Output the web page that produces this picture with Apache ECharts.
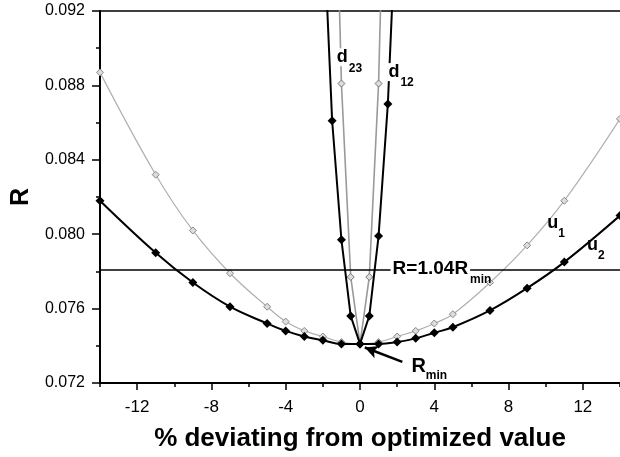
<!DOCTYPE html>
<html>
<head>
<meta charset="utf-8">
<script src="https://cdn.jsdelivr.net/npm/echarts@6/dist/echarts.min.js"></script>
<style>
  html, body { margin: 0; padding: 0; background: #fff; }
  #chart { width: 620px; height: 457px; }
</style>
</head>
<body>
<div id="chart"></div>
<script>
// deviation (%) for the u curves
var uX = [-14, -11, -9, -7, -5, -4, -3, -2, -1, 0, 1, 2, 3, 4, 5, 7, 9, 11, 14];
var u1 = [0.0887, 0.0832, 0.0802, 0.0779, 0.0761, 0.0753, 0.0748, 0.0745, 0.0742, 0.0741,
          0.0742, 0.0745, 0.0748, 0.0752, 0.0757, 0.0774, 0.0794, 0.0818, 0.0862];
var u2 = [0.0818, 0.0790, 0.0774, 0.0761, 0.0752, 0.0748, 0.0745, 0.0743, 0.0741, 0.0741,
          0.0741, 0.0742, 0.0744, 0.0747, 0.0750, 0.0759, 0.0771, 0.0785, 0.0810];

// the d curves only go a couple of percent either way
var d12X = [-2, -1.5, -1, -0.5, 0, 0.5, 1, 1.5, 2];
var d12 = [0.0975, 0.0861, 0.0797, 0.0756, 0.0741, 0.0756, 0.0799, 0.0870, 0.0985];
var d23X = [-1.5, -1, -0.5, 0, 0.5, 1, 1.5];
var d23 = [0.1075, 0.0881, 0.0777, 0.0741, 0.0777, 0.0881, 0.1075];

var rLine = 0.0781;   // R=1.04Rmin

var xMajor = [-12, -8, -4, 0, 4, 8, 12];

function pairs(xs, ys) {
    return xs.map(function (x, i) { return [x, ys[i]]; });
}

var FONT = 'Liberation Sans, Arial, sans-serif';

var rich = {
    b: { fontSize: 18, fontWeight: 'bold', fontFamily: FONT, color: '#000', lineHeight: 20, verticalAlign: 'top' },
    s: { fontSize: 12, fontWeight: 'bold', fontFamily: FONT, color: '#000', lineHeight: 26, verticalAlign: 'bottom' },
    // white backed: the curve is broken behind the letter
    db: { fontSize: 18, fontWeight: 'bold', fontFamily: FONT, color: '#000', lineHeight: 20, verticalAlign: 'top',
          backgroundColor: '#fff', padding: [0, 1, 0, 1] },
    bw: { fontSize: 19, fontWeight: 'bold', fontFamily: FONT, color: '#000', lineHeight: 20, verticalAlign: 'top',
          backgroundColor: '#fff', padding: [0, 2, 0, 2] },
    bb: { fontSize: 20, fontWeight: 'bold', fontFamily: FONT, color: '#000', lineHeight: 22, verticalAlign: 'top' }
};

function note(x, y, text) {
    return {
        coord: [x, y],
        symbol: 'circle',
        symbolSize: 1,
        itemStyle: { color: 'rgba(0,0,0,0)' },
        label: {
            show: true,
            position: 'right',
            distance: 0,
            formatter: text,
            rich: rich
        }
    };
}

var myChart = echarts.init(document.getElementById('chart'));

var option = {
    animation: false,
    backgroundColor: '#fff',
    grid: { left: 100, right: -7, top: 11, bottom: 73 },
    xAxis: [
        {
            type: 'value',
            min: -14,
            max: 14,
            position: 'bottom',
            splitLine: { show: false },
            axisLine: { onZero: false, lineStyle: { color: '#000', width: 2 } },
            axisTick: { customValues: xMajor, length: 7, lineStyle: { color: '#000', width: 1.5 } },
            axisLabel: { customValues: xMajor, fontSize: 17, color: '#000', fontFamily: FONT, margin: 16 },
            name: '% deviating from optimized value',
            nameLocation: 'middle',
            nameGap: 43,
            nameTextStyle: { fontSize: 26, fontWeight: 'bold', color: '#000', fontFamily: FONT }
        },
        {
            type: 'value',
            min: -14,
            max: 14,
            position: 'top',
            splitLine: { show: false },
            axisLine: { onZero: false, lineStyle: { color: '#000', width: 1.5 } },
            axisTick: { show: false },
            axisLabel: { show: false }
        },
        {
            type: 'value',
            min: -14,
            max: 14,
            interval: 2,
            position: 'bottom',
            splitLine: { show: false },
            axisLine: { show: true, onZero: false, lineStyle: { color: '#000', opacity: 0 } },
            axisTick: { show: true, length: 4, lineStyle: { color: '#000', width: 1.5 } },
            axisLabel: { show: false }
        }
    ],
    yAxis: {
        type: 'value',
        min: 0.072,
        max: 0.092,
        interval: 0.004,
        splitLine: { show: false },
        axisLine: { show: true, onZero: false, lineStyle: { color: '#000', width: 2 } },
        axisTick: { show: true, length: 8, lineStyle: { color: '#000', width: 1.5 } },
        minorTick: { show: true, splitNumber: 2, length: 4, lineStyle: { color: '#000', width: 1.5 } },
        axisLabel: {
            fontSize: 16, color: '#000', fontFamily: FONT, margin: 15,
            formatter: function (v) { return v.toFixed(3); }
        },
        name: 'R',
        nameLocation: 'middle',
        nameGap: 64,
        nameTextStyle: { fontSize: 25, fontWeight: 'bold', color: '#000', fontFamily: FONT }
    },
    series: [
        {
            name: 'u1',
            type: 'line',
            smooth: 0.4,
            data: pairs(uX, u1),
            symbol: 'diamond',
            symbolSize: 7,
            lineStyle: { color: '#b0b0b0', width: 1.2 },
            itemStyle: { color: '#ddd', borderColor: '#888', borderWidth: 1 },
            z: 2
        },
        {
            name: 'd23',
            type: 'line',
            data: pairs(d23X, d23),
            symbol: 'diamond',
            symbolSize: 7,
            lineStyle: { color: '#999', width: 1.6 },
            itemStyle: { color: '#ddd', borderColor: '#777', borderWidth: 1 },
            z: 3,
            markPoint: {
                silent: true,
                data: [
                    note(-1.33, 0.0893, '{db|d}{s|23}'),
                    note(10.05, 0.0804, '{b|u}{s|1}'),
                    note(12.2, 0.0792, '{b|u}{s|2}')
                ]
            }
        },
        {
            name: 'u2',
            type: 'line',
            smooth: 0.4,
            data: pairs(uX, u2),
            symbol: 'diamond',
            symbolSize: 9,
            lineStyle: { color: '#000', width: 2 },
            itemStyle: { color: '#000' },
            z: 4,
            markLine: {
                silent: true,
                symbol: 'none',
                precision: 6,
                label: { show: false },
                lineStyle: { color: '#000', width: 1.5, type: 'solid' },
                data: [[{ coord: [-14, rLine] }, { coord: [14, rLine] }]]
            },
            markPoint: {
                silent: true,
                data: [
                    note(1.62, rLine - 0.00016, '{bw|R=1.04R}{s|min}'),
                    note(2.74, 0.07275, '{bb|R}{s|min}')
                ]
            }
        },
        {
            name: 'd12',
            type: 'line',
            data: pairs(d12X, d12),
            symbol: 'diamond',
            symbolSize: 9,
            lineStyle: { color: '#000', width: 2 },
            itemStyle: { color: '#000' },
            z: 5,
            markLine: {
                silent: true,
                symbol: ['none', 'arrow'],
                symbolSize: [10, 13],
                precision: 6,
                label: { show: false },
                lineStyle: { color: '#000', width: 2.5, type: 'solid' },
                data: [[{ coord: [2.28, 0.07314] }, { coord: [0.26, 0.07391] }]]
            },
            markPoint: {
                silent: true,
                z: 10,
                data: [
                    note(1.45, 0.0885, '{db|d}{s|12}')
                ]
            }
        }
    ]
};

myChart.setOption(option);
</script>
</body>
</html>
